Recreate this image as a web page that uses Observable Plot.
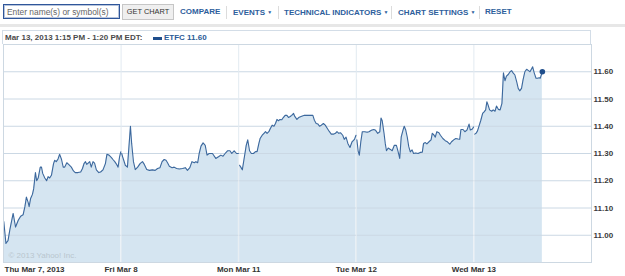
<!DOCTYPE html>
<html>
<head>
<meta charset="utf-8">
<script src="https://cdn.jsdelivr.net/npm/d3@7"></script>
<script src="https://cdn.jsdelivr.net/npm/@observablehq/plot@0.6"></script>
<style>
  html, body { margin: 0; padding: 0; background: #fff; }
  #wrap { position: relative; width: 625px; height: 276px; overflow: hidden; font-family: "Liberation Sans", Arial, sans-serif; }
  .abs { position: absolute; white-space: nowrap; }
  #inp { left: 3px; top: 4px; width: 115px; height: 13px; border: 1px solid #2f569a; box-shadow: inset 0 0 0 1px rgba(47,86,154,0.35); }
  #inp span { position: absolute; left: 3px; top: 1px; font-size: 8.4px; color: #666; line-height: 12px; }
  #btn { left: 122px; top: 4px; width: 50px; height: 14px; border: 1px solid #c6c6c6; background: #efefef; font-size: 7.4px; color: #333; text-align: center; line-height: 14px; }
  .lnk { top: 7px; font-size: 8px; font-weight: bold; color: #2d5e9c; line-height: 10px; }
  .lnk b { font-size: 5px; vertical-align: 1px; }
  .sep { top: 6px; width: 1px; height: 13px; background: #dcdcdc; }
  #band { left: 0; top: 24px; width: 625px; height: 3px; background: #e7e7e7; }
  #hdr { left: 2px; top: 30px; width: 587px; height: 13px; border: 1px solid #d3dde7; border-bottom: none; }
  #hdr .t { position: absolute; left: 2px; top: 2px; font-size: 8px; font-weight: bold; color: #4a4a4a; line-height: 10px; }
  #hdr .sw { position: absolute; left: 150px; top: 6px; width: 9px; height: 3px; background: #1f4e8c; }
  #hdr .v { position: absolute; left: 161px; top: 2px; font-size: 8px; font-weight: bold; color: #2a5a96; line-height: 10px; }
  #chart { left: 0; top: 44px; }
</style>
</head>
<body>
<div id="wrap">
  <div class="abs" id="inp"><span>Enter name(s) or symbol(s)</span></div>
  <div class="abs" id="btn">GET CHART</div>
  <div class="abs lnk" style="left:180px">COMPARE</div>
  <div class="abs sep" style="left:226px"></div>
  <div class="abs lnk" style="left:233px">EVENTS <b>&#9660;</b></div>
  <div class="abs sep" style="left:278px"></div>
  <div class="abs lnk" style="left:284px">TECHNICAL INDICATORS <b>&#9660;</b></div>
  <div class="abs sep" style="left:391px"></div>
  <div class="abs lnk" style="left:398px">CHART SETTINGS <b>&#9660;</b></div>
  <div class="abs sep" style="left:479px"></div>
  <div class="abs lnk" style="left:485px">RESET</div>
  <div class="abs" id="band"></div>
  <div class="abs" id="hdr"><span class="t">Mar 13, 2013 1:15 PM - 1:20 PM EDT:</span><span class="sw"></span><span class="v">ETFC 11.60</span></div>
  <div class="abs" id="chart"></div>
</div>
<script>
// Trading day labels (each session = 390 minutes, 9:30 AM - 4:00 PM)
const dayLabels = ["Thu Mar 7, 2013", "Fri Mar 8", "Mon Mar 11", "Tue Mar 12", "Wed Mar 13"];
const sessionMinutes = 390;
const yTicks = [11.0, 11.1, 11.2, 11.3, 11.4, 11.5, 11.6];
const yDomain = [10.9, 11.7];
const copyright = "\u00a9 2013 Yahoo! Inc.";

// [minutes since open, price] per day
const thu = [[1,11.05],[8,10.97],[15,10.98],[21,11.02],[32,11.08],[40,11.03],[49,11.055],[57,11.07],[65,11.075],[71,11.105],[76,11.14],[82,11.12],[85,11.105],[90,11.135],[96,11.15],[100,11.17],[106,11.23],[110,11.20],[115,11.21],[122,11.25],[126,11.25],[130,11.227],[137,11.21],[143,11.20],[148,11.215],[153,11.21],[159,11.22],[166,11.263],[170,11.275],[175,11.27],[181,11.28],[186,11.297],[192,11.28],[198,11.25],[203,11.25],[210,11.266],[216,11.26],[225,11.25],[232,11.236],[238,11.23],[247,11.23],[256,11.232],[262,11.245],[267,11.263],[272,11.27],[276,11.26],[281,11.265],[286,11.27],[291,11.25],[297,11.27],[302,11.265],[308,11.24],[316,11.23],[322,11.232],[330,11.24],[338,11.263],[343,11.297],[350,11.294],[358,11.285],[363,11.278],[369,11.27],[374,11.262],[380,11.25],[385,11.288],[389,11.306]];
const fri = [[2,11.30],[5,11.288],[14,11.257],[21,11.25],[25,11.31],[31,11.40],[35,11.337],[41,11.27],[47,11.241],[55,11.25],[63,11.263],[71,11.27],[77,11.26],[85,11.241],[94,11.238],[104,11.24],[113,11.238],[121,11.245],[129,11.248],[136,11.27],[143,11.278],[149,11.275],[154,11.266],[160,11.253],[169,11.248],[176,11.25],[184,11.245],[193,11.243],[204,11.245],[213,11.248],[220,11.238],[228,11.248],[235,11.27],[243,11.266],[248,11.27],[254,11.266],[259,11.30],[265,11.327],[272,11.339],[279,11.33],[285,11.294],[292,11.30],[303,11.30],[314,11.282],[323,11.288],[331,11.294],[338,11.29],[345,11.30],[353,11.31],[361,11.31],[367,11.30],[375,11.31],[383,11.30],[389,11.30]];
const mon = [[3,11.257],[7,11.25],[12,11.24],[19,11.288],[25,11.33],[30,11.35],[36,11.31],[42,11.30],[49,11.30],[56,11.307],[61,11.307],[67,11.337],[71,11.355],[78,11.367],[84,11.374],[89,11.38],[94,11.374],[100,11.38],[105,11.392],[111,11.404],[117,11.40],[122,11.41],[127,11.425],[132,11.42],[137,11.425],[143,11.424],[148,11.432],[154,11.44],[160,11.44],[165,11.432],[171,11.436],[176,11.44],[182,11.447],[186,11.436],[193,11.425],[199,11.432],[207,11.436],[218,11.44],[229,11.44],[240,11.44],[246,11.44],[251,11.422],[257,11.41],[263,11.408],[268,11.40],[274,11.404],[281,11.41],[287,11.404],[294,11.392],[301,11.38],[307,11.371],[314,11.371],[321,11.374],[326,11.38],[332,11.374],[338,11.376],[345,11.367],[350,11.352],[356,11.36],[362,11.337],[369,11.322],[376,11.343],[384,11.352],[389,11.367]];
const tue = [[2,11.35],[6,11.31],[10,11.294],[15,11.343],[20,11.38],[28,11.38],[36,11.378],[42,11.38],[50,11.385],[58,11.388],[64,11.385],[71,11.374],[78,11.38],[82,11.43],[86,11.42],[92,11.374],[96,11.337],[100,11.31],[106,11.32],[113,11.315],[119,11.31],[126,11.33],[133,11.33],[138,11.31],[144,11.282],[149,11.361],[155,11.386],[159,11.40],[164,11.386],[169,11.36],[174,11.325],[179,11.306],[185,11.313],[190,11.30],[197,11.302],[205,11.30],[212,11.304],[219,11.305],[223,11.337],[229,11.34],[234,11.335],[241,11.343],[248,11.35],[252,11.374],[256,11.37],[262,11.36],[267,11.38],[274,11.376],[279,11.367],[287,11.355],[295,11.347],[302,11.343],[310,11.334],[316,11.343],[323,11.35],[330,11.355],[337,11.353],[343,11.352],[347,11.388],[354,11.388],[360,11.38],[367,11.386],[374,11.408],[378,11.386],[385,11.39],[389,11.397]];
const wed = [[3,11.371],[8,11.375],[12,11.383],[18,11.404],[23,11.422],[29,11.447],[34,11.453],[39,11.46],[43,11.49],[47,11.478],[52,11.46],[59,11.455],[64,11.46],[70,11.455],[75,11.474],[81,11.462],[87,11.46],[93,11.484],[98,11.596],[103,11.567],[108,11.584],[114,11.59],[120,11.60],[125,11.604],[130,11.596],[136,11.588],[142,11.563],[147,11.539],[152,11.53],[158,11.539],[163,11.57],[169,11.60],[175,11.609],[181,11.604],[186,11.60],[192,11.612],[195,11.618],[200,11.596],[206,11.576],[211,11.576],[217,11.578],[220,11.576],[227,11.60]];

const days = [thu, fri, mon, tue, wed];
const data = days.flatMap((arr, i) => arr.map(([m, p]) => ({day: i, t: i * sessionMinutes + m, price: p})));
const last = data[data.length - 1];
const dayStarts = dayLabels.map((_, i) => i * sessionMinutes);

const chart = Plot.plot({
  width: 625,
  height: 232,
  marginTop: 0,
  marginBottom: 14,
  marginLeft: 3,
  marginRight: 34,
  style: {fontFamily: "Liberation Sans, Arial, sans-serif", fontSize: "8px", fontWeight: "bold", color: "#3a3a3a", background: "transparent", overflow: "visible"},
  x: {type: "linear", domain: [0, dayLabels.length * sessionMinutes], axis: null},
  y: {domain: yDomain, axis: null},
  marks: [
    Plot.areaY(data, {x: "t", y1: yDomain[0], y2: "price", z: "day", fill: "#d5e5f1", fillOpacity: 1}),
    Plot.ruleY(yTicks, {stroke: "#cbd8e4", strokeWidth: 1}),
    Plot.ruleX(dayStarts.slice(1), {stroke: "#e2eaf1", strokeWidth: 1}),
    Plot.text([copyright], {frameAnchor: "bottom-left", dx: 5, dy: -5, fill: "#b9c6cf", fontWeight: "normal", fontSize: 8, textAnchor: "start"}),
    Plot.lineY(data, {x: "t", y: "price", z: "day", stroke: "#3c689d", strokeWidth: 1.1}),
    Plot.dot([last], {x: "t", y: "price", r: 2.8, fill: "#1f4e8c", stroke: "none"}),
    Plot.frame({stroke: "#cdd8e2"}),
    Plot.axisY(yTicks, {anchor: "right", label: null, tickSize: 0, tickPadding: 2, tickFormat: d3.format(".2f"), fill: "#3a3a3a"}),
    Plot.text(dayLabels.slice(0, 1), {x: dayStarts.slice(0, 1), frameAnchor: "bottom", dy: 7, dx: 1, textAnchor: "start", lineAnchor: "middle", fill: "#333"}),
    Plot.text(dayLabels.slice(1), {x: dayStarts.slice(1), frameAnchor: "bottom", dy: 7, textAnchor: "middle", lineAnchor: "middle", fill: "#333"})
  ]
});
document.getElementById("chart").appendChild(chart);
</script>
</body>
</html>
